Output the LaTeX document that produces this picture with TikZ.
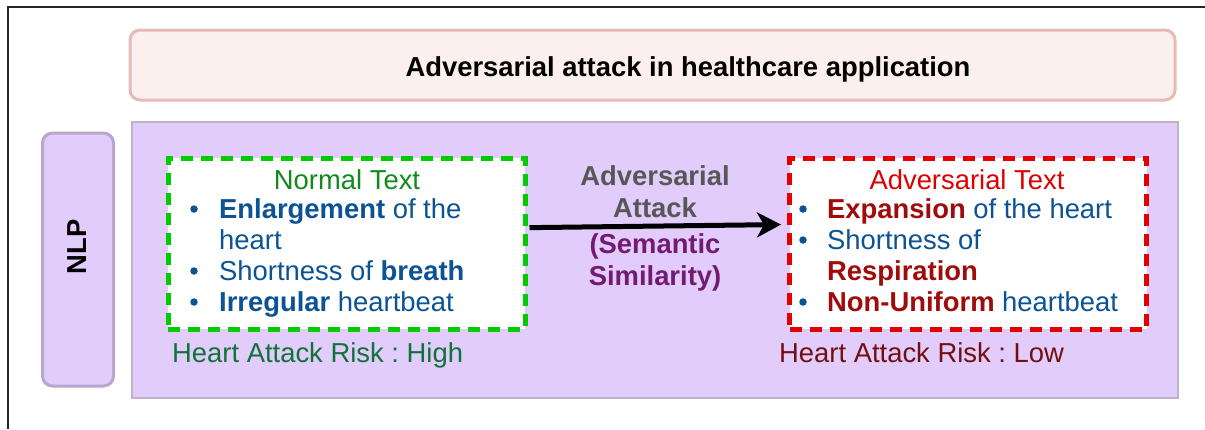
\documentclass[tikz,border=0pt]{standalone}
\usepackage{fontspec}
\setmainfont{Liberation Sans}
\usetikzlibrary{arrows.meta}
\definecolor{titlefill}{HTML}{FCF0EE}
\definecolor{titledraw}{HTML}{E6BBB5}
\definecolor{lilac}{HTML}{E1CCFB}
\definecolor{lilacdraw}{HTML}{B8A6CC}
\definecolor{paneldraw}{HTML}{BDB4C6}
\definecolor{okgreen}{HTML}{00CC00}
\definecolor{greentext}{HTML}{118A1A}
\definecolor{riskgreen}{HTML}{0F7338}
\definecolor{blueword}{HTML}{0B5394}
\definecolor{redtext}{HTML}{DD0000}
\definecolor{redword}{HTML}{A00B0B}
\definecolor{risklow}{HTML}{730F0F}
\definecolor{attackgray}{HTML}{575757}
\definecolor{simpurple}{HTML}{731B73}
\frenchspacing

\begin{document}
\begin{tikzpicture}[x=1pt,y=-1pt,>={Stealth[length=24pt,width=25pt,inset=7pt]},
  txt/.style={anchor=base west,inner sep=0pt,font=\fontsize{27.4}{31}\selectfont},
  mid/.style={txt,anchor=base},
  dot/.style={circle,fill=blueword,inner sep=0pt,minimum size=7.5pt},
  textbox/.style={rectangle,fill=white,line width=5pt,
    dash pattern=on 12pt off 8pt,minimum width=357pt,minimum height=171pt}]

  \useasboundingbox (0,0) rectangle (1205,429);
  % frame
  \draw[line width=1.5pt,black!85] (8,429) -- (8,7) -- (1205,7);

  % title
  \node[rectangle,rounded corners=10pt,fill=titlefill,draw=titledraw,line width=3pt,
    minimum width=1045pt,minimum height=70pt] (title) at (652.5,65) {};
  \node[mid,font=\fontsize{27.4}{31}\selectfont\bfseries] (titletext) at (688,76)
    {Adversarial attack in healthcare application};

  % side label and panel
  \node[rectangle,rounded corners=10pt,fill=lilac,draw=lilacdraw,line width=3pt,
    minimum width=71pt,minimum height=253pt] (side) at (78,259.5) {};
  \node[rotate=90,font=\fontsize{27.4}{31}\selectfont\bfseries] (nlp) at (77,247) {NLP};
  \node[rectangle,fill=lilac,draw=paneldraw,line width=2pt,
    minimum width=1046pt,minimum height=276pt] (panel) at (655,259.5) {};

  % the two texts
  \node[textbox,draw=okgreen] (normal) at (346.5,243.5) {};
  \node[textbox,draw=red!90!black] (adv) at (968,243.5) {};

  \node[mid,text=greentext] (normaltitle) at (347,189) {Normal Text};
  \foreach \y [count=\c] in {218,280,311}
    \node[dot] (gb\c) at (194,\y-9) {};
  \node[txt,text=blueword] (g1) at (219,218) {\textbf{Enlargement} of the};
  \node[txt,text=blueword] (g2) at (219,249) {heart};
  \node[txt,text=blueword] (g3) at (219,280) {Shortness of \textbf{breath}};
  \node[txt,text=blueword] (g4) at (219,311) {\textbf{Irregular} heartbeat};
  \node[txt,text=riskgreen] (riskhigh) at (172,362) {Heart Attack Risk : High};

  \node[mid,text=redtext] (advtitle) at (967,189) {Adversarial Text};
  \foreach \y [count=\c] in {218,249,311}
    \node[dot] (rb\c) at (803,\y-9) {};
  \node[txt,text=blueword] (r1) at (827,218) {\textcolor{redword}{\textbf{Expansion}} of the heart};
  \node[txt,text=blueword] (r2) at (827,249) {Shortness of};
  \node[txt,text=redword,font=\fontsize{27.4}{31}\selectfont\bfseries] (r3) at (827,280) {Respiration};
  \node[txt,text=blueword] (r4) at (827,311) {\textcolor{redword}{\textbf{Non-Uniform}} heartbeat};
  \node[txt,text=risklow] (risklow) at (779,362) {Heart Attack Risk : Low};

  % attack arrow
  \draw[->,line width=5pt,shorten <=2pt,shorten >=6pt] (normal.5.9) -- (adv.174.1);
  \node[mid,text=attackgray,font=\fontsize{27.4}{31}\selectfont\bfseries] (atk1) at (655,185) {Adversarial};
  \node[mid,text=attackgray,font=\fontsize{27.4}{31}\selectfont\bfseries] (atk2) at (655,217) {Attack};
  \node[mid,text=simpurple,font=\fontsize{27.4}{31}\selectfont\bfseries] (sim1) at (655,253) {(Semantic};
  \node[mid,text=simpurple,font=\fontsize{27.4}{31}\selectfont\bfseries] (sim2) at (655,285) {Similarity)};
\end{tikzpicture}
\end{document}
